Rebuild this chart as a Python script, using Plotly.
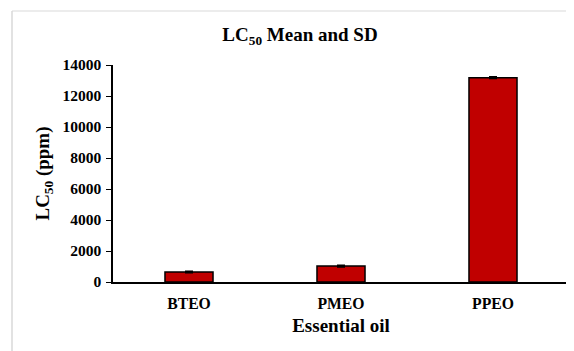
import plotly.graph_objects as go

categories = ["BTEO", "PMEO", "PPEO"]
means = [645, 1030, 13180]
sds = [40, 40, 40]
y_ticks = [0, 2000, 4000, 6000, 8000, 10000, 12000, 14000]

font_family = "Liberation Serif"

fig = go.Figure()
fig.add_trace(go.Bar(
    x=categories, y=means,
    marker=dict(color="#C00000", line=dict(color="black", width=1.5)),
    width=0.316,
    error_y=dict(type="data", array=sds, visible=True, color="black", thickness=2, width=4),
))

# page has 8px body margin; figure drawn at (8,8)
W, H = 566, 343
L, R, T, B = 105, 5, 57, 69
pw, ph = W - L - R, H - T - B

def px(x):
    return (x - L) / pw

def py(y):
    return (H - B - y) / ph

fig.update_layout(
    width=W, height=H,
    margin=dict(l=L, r=R, t=T, b=B),
    paper_bgcolor="white", plot_bgcolor="white",
    showlegend=False,
    title=dict(text="<b>LC<sub>50</sub> Mean and SD</b>", x=292 / W, xanchor="center",
               y=1 - 26 / H, yanchor="middle",
               font=dict(family=font_family, size=19, color="black")),
    font=dict(family=font_family, color="black"),
    xaxis=dict(
        showline=True, linecolor="black", linewidth=1.5,
        ticks="", showgrid=False,
        ticklabelstandoff=6,
        tickfont=dict(family=font_family, size=15.7, color="black"),
        title=dict(text="<b>Essential oil</b>", font=dict(family=font_family, size=19, color="black"), standoff=8),
        tickprefix="<b>", ticksuffix="</b>",
    ),
    yaxis=dict(
        range=[0, 14000], tickvals=y_ticks,
        ticktext=[f"<b>{v}</b>" for v in y_ticks],
        showline=True, linecolor="black", linewidth=1.5,
        ticks="outside", ticklen=5, tickwidth=1.2, tickcolor="black",
        ticklabelstandoff=2,
        showgrid=False, zeroline=False,
        tickfont=dict(family=font_family, size=15.5, color="black"),
        title=dict(text="<b>LC<sub>50</sub> (ppm)</b>", font=dict(family=font_family, size=19, color="black"), standoff=8),
    ),
    shapes=[
        dict(type="line", xref="paper", yref="paper", x0=px(4), x1=px(W + 10), y0=py(3), y1=py(3),
             line=dict(color="#d9d9d9", width=1)),
        dict(type="line", xref="paper", yref="paper", x0=px(4), x1=px(4), y0=py(3), y1=py(H + 10),
             line=dict(color="#d9d9d9", width=1.5)),
    ],
)

fig.write_html("out.html")
